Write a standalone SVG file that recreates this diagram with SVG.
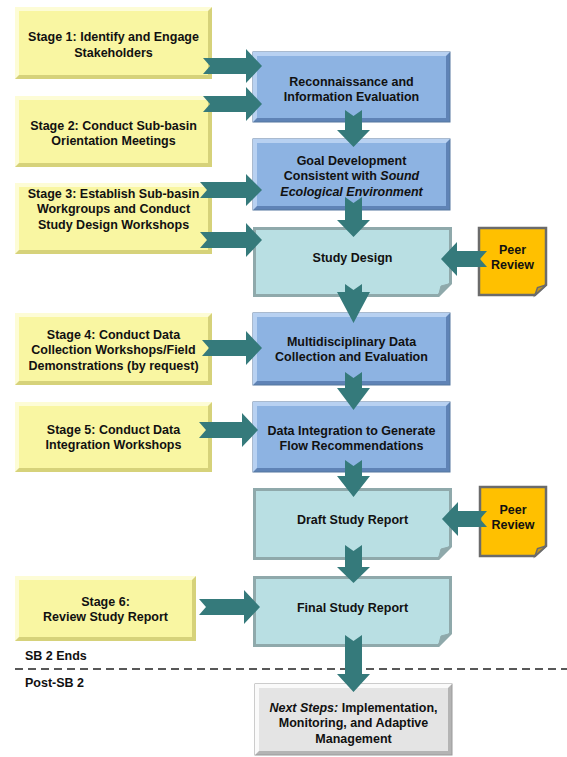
<svg xmlns="http://www.w3.org/2000/svg" width="567" height="757" viewBox="0 0 567 757">
<style>
text{font-family:"Liberation Sans",Arial,sans-serif;font-weight:bold;font-size:12.5px;fill:#111;text-anchor:middle}
.lab{text-anchor:start}
.ydk{fill:#D6D27A}.ylt{fill:#FDFCD6}.ymd{fill:#F9F6A2}
.bdk{fill:#5F83B6;stroke:#55779F;stroke-width:1}.blt{fill:#B8D1F1}.bmd{fill:#8DB3E2}
.gdk{fill:#B4B4B4;stroke:#9A9A9A;stroke-width:1}.glt{fill:#FAFAFA}.gmd{fill:#E4E4E4}
.doc{fill:#B9DFE3;stroke:#8FA9AB;stroke-width:3;stroke-linejoin:miter}
.docf{fill:#8FA9AB;stroke:#8FA9AB;stroke-width:1}
.peer{fill:#FFC000;stroke:#6B6B6B;stroke-width:2.5}
.peerf{fill:#C4961E;stroke:#6B6B6B;stroke-width:1.5}
.arr{fill:#357A7B}
.dash{stroke:#222;stroke-width:1.5;stroke-dasharray:8 5;fill:none}
</style>
<g id="stage1"><rect class="ydk" x="15" y="7" width="197" height="72"/><polygon class="ylt" points="15,7 212,7 208,11 19,75 15,79"/><rect class="ymd" x="19" y="11" width="189" height="64"/>
<text x="113.5" y="40.5">Stage 1: Identify and Engage</text><text x="113.5" y="56.5">Stakeholders</text></g>
<g id="stage2"><rect class="ydk" x="15" y="96" width="197" height="71"/><polygon class="ylt" points="15,96 212,96 208,100 19,163 15,167"/><rect class="ymd" x="19" y="100" width="189" height="63"/>
<text x="113.5" y="129.5">Stage 2: Conduct Sub-basin</text><text x="113.5" y="144.5">Orientation Meetings</text></g>
<g id="stage3"><rect class="ydk" x="15" y="183" width="197" height="71"/><polygon class="ylt" points="15,183 212,183 208,187 19,250 15,254"/><rect class="ymd" x="19" y="187" width="189" height="63"/>
<text x="113.5" y="197.5">Stage 3: Establish Sub-basin</text><text x="113.5" y="213">Workgroups and Conduct</text><text x="113.5" y="228.5">Study Design Workshops</text></g>
<g id="stage4"><rect class="ydk" x="15" y="313" width="197" height="72"/><polygon class="ylt" points="15,313 212,313 208,317 19,381 15,385"/><rect class="ymd" x="19" y="317" width="189" height="64"/>
<text x="113.5" y="338.5">Stage 4: Conduct Data</text><text x="113.5" y="354">Collection Workshops/Field</text><text x="113.5" y="369.5">Demonstrations (by request)</text></g>
<g id="stage5"><rect class="ydk" x="15" y="402" width="197" height="70"/><polygon class="ylt" points="15,402 212,402 208,406 19,468 15,472"/><rect class="ymd" x="19" y="406" width="189" height="62"/>
<text x="113.5" y="433.5">Stage 5: Conduct Data</text><text x="113.5" y="449">Integration Workshops</text></g>
<g id="stage6"><rect class="ydk" x="15" y="576" width="181" height="65"/><polygon class="ylt" points="15,576 196,576 192,580 19,637 15,641"/><rect class="ymd" x="19" y="580" width="173" height="57"/>
<text x="105.5" y="605.5">Stage 6:</text><text x="105.5" y="621">Review Study Report</text></g>
<g id="recon"><rect class="bdk" x="253" y="52" width="197" height="70"/><polygon class="blt" points="253,52 450,52 446,56 257,118 253,122"/><rect class="bmd" x="257" y="56" width="189" height="62"/>
<text x="351.5" y="85.5">Reconnaissance and</text><text x="351.5" y="100.5">Information Evaluation</text></g>
<g id="goal"><rect class="bdk" x="253" y="139" width="197" height="71"/><polygon class="blt" points="253,139 450,139 446,143 257,206 253,210"/><rect class="bmd" x="257" y="143" width="189" height="63"/>
<text x="351.5" y="164.5">Goal Development</text><text x="351.5" y="180">Consistent with <tspan font-style="italic">Sound</tspan></text><text x="351.5" y="195.5" font-style="italic">Ecological Environment</text></g>
<g id="studydesign"><path class="doc" d="M254.5,228.5 H450.5 V283.5 L438.5,295.5 H254.5 Z"/><polygon class="docf" points="438.5,295.5 450.5,283.5 441,286"/>
<text x="352.5" y="261.5">Study Design</text></g>
<g id="peer1"><path class="peer" d="M479,228 H546 V285 L535,295 H479 Z"/><polygon class="peerf" points="535,295 546,285 537.5,287.5"/>
<text x="512.5" y="253.5">Peer</text><text x="512.5" y="268.5">Review</text></g>
<g id="multi"><rect class="bdk" x="253" y="313" width="197" height="72"/><polygon class="blt" points="253,313 450,313 446,317 257,381 253,385"/><rect class="bmd" x="257" y="317" width="189" height="64"/>
<text x="351.5" y="345.5">Multidisciplinary Data</text><text x="351.5" y="361">Collection and Evaluation</text></g>
<g id="dataint"><rect class="bdk" x="253" y="402" width="197" height="70"/><polygon class="blt" points="253,402 450,402 446,406 257,468 253,472"/><rect class="bmd" x="257" y="406" width="189" height="62"/>
<text x="351.5" y="434.5">Data Integration to Generate</text><text x="351.5" y="449.5">Flow Recommendations</text></g>
<g id="draft"><path class="doc" d="M254.5,489.5 H450.5 V546.5 L438.5,558.5 H254.5 Z"/><polygon class="docf" points="438.5,558.5 450.5,546.5 441,549"/>
<text x="352.5" y="523.5">Draft Study Report</text></g>
<g id="peer2"><path class="peer" d="M480,487 H546 V546 L535,556 H480 Z"/><polygon class="peerf" points="535,556 546,546 537.5,548.5"/>
<text x="513" y="513.5">Peer</text><text x="513" y="528.5">Review</text></g>
<g id="final"><path class="doc" d="M254.5,577.5 H450.5 V633.5 L438.5,645.5 H254.5 Z"/><polygon class="docf" points="438.5,645.5 450.5,633.5 441,636"/>
<text x="352.5" y="611.5">Final Study Report</text></g>
<g id="next"><rect class="gdk" x="255" y="684" width="197" height="71"/><polygon class="glt" points="255,684 452,684 448,688 259,751 255,755"/><rect class="gmd" x="259" y="688" width="189" height="63"/>
<text x="353.5" y="711.5"><tspan font-style="italic">Next Steps:</tspan> Implementation,</text><text x="353.5" y="727">Monitoring, and Adaptive</text><text x="353.5" y="742.5">Management</text></g>
<g id="phase">
<text class="lab" x="25" y="659.5">SB 2 Ends</text>
<line class="dash" x1="15" y1="669" x2="567" y2="669"/>
<text class="lab" x="25" y="686.5">Post-SB 2</text>
</g>
<g id="connectors">
<polygon class="arr" points="203,58 246,58 246,49 262,66 246,83 246,74 203,74 210,66"/>
<polygon class="arr" points="203,96 246,96 246,87 262,104 246,121 246,112 203,112 210,104"/>
<polygon class="arr" points="200,182 246,182 246,174 262,190 246,206 246,198 200,198 207,190"/>
<polygon class="arr" points="200,232 246,232 246,223 262,240 246,257 246,248 200,248 207,240"/>
<polygon class="arr" points="202,340 246,340 246,331 262,348 246,365 246,356 202,356 209,348"/>
<polygon class="arr" points="199,422 242,422 242,413 258,430 242,447 242,438 199,438 206,430"/>
<polygon class="arr" points="199,599 244,599 244,590 260,607 244,624 244,615 199,615 206,607"/>
<polygon class="arr" points="441,259 457,242 457,251 487,251 480,259 487,267 457,267 457,276"/>
<polygon class="arr" points="442,519 458,502 458,511 487,511 480,519 487,527 458,527 458,536"/>
<polygon class="arr" points="345,110 353.5,116 362,110 362,130 370,130 353.5,147 337,130 345,130"/>
<polygon class="arr" points="345,197 353.5,203 362,197 362,220 370,220 353.5,237 337,220 345,220"/>
<polygon class="arr" points="345,284 353.5,290 362,284 362,292 370,292 353.5,323 337,292 345,292"/>
<polygon class="arr" points="345,372 353.5,378 362,372 362,388 370,388 353.5,410 337,388 345,388"/>
<polygon class="arr" points="345,460 353.5,466 362,460 362,476 370,476 353.5,497 337,476 345,476"/>
<polygon class="arr" points="345,545 353.5,551 362,545 362,567 370,567 353.5,583 337,567 345,567"/>
<polygon class="arr" points="345,635 353.5,641 362,635 362,674 370,674 353.5,692 337,674 345,674"/>
</g>
</svg>
